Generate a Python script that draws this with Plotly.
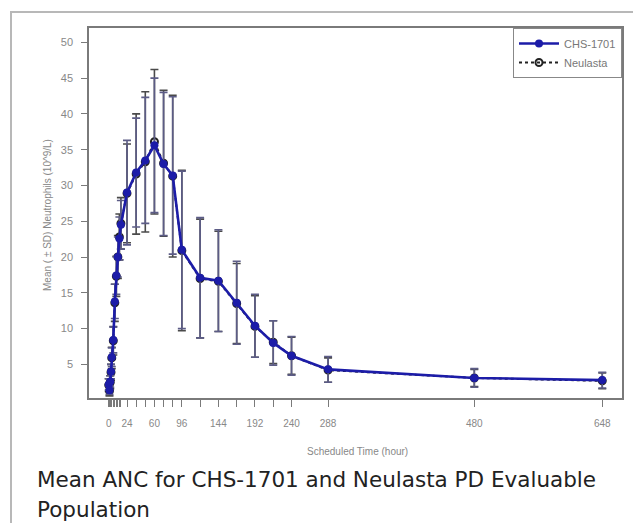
import plotly.graph_objects as go

# ---- data ----
times = [0, 1, 2, 3, 4, 6, 8, 10, 12, 14, 16, 24, 36, 48, 60, 72, 84, 96,
         120, 144, 168, 192, 216, 240, 288, 480, 648]
chs_mean = [2.2, 1.4, 2.6, 4.0, 6.0, 8.4, 13.8, 17.4, 20.0, 22.6, 24.5, 29.0,
            31.8, 33.5, 35.6, 33.0, 31.4, 21.0, 17.1, 16.7, 13.6, 10.4, 8.0,
            6.2, 4.3, 3.1, 2.8]
chs_sd = [0.8, 0.6, 0.8, 1.0, 1.3, 1.8, 2.4, 2.6, 2.8, 3.0, 3.4, 7.3,
          7.6, 8.8, 9.4, 10.0, 11.0, 11.0, 8.4, 7.1, 5.8, 4.4, 3.1,
          2.7, 1.8, 1.3, 1.1]
neu_mean = [2.1, 1.3, 2.5, 3.9, 5.9, 8.3, 13.6, 17.3, 20.0, 22.8, 24.7, 28.9,
            31.6, 33.3, 36.1, 33.1, 31.3, 20.9, 17.0, 16.6, 13.5, 10.3, 8.1,
            6.2, 4.2, 3.1, 2.7]
neu_sd = [0.9, 0.7, 0.9, 1.1, 1.5, 2.0, 2.6, 2.8, 3.0, 3.2, 3.6, 6.9,
          8.4, 9.8, 10.1, 10.2, 11.3, 11.2, 8.3, 7.0, 5.6, 4.3, 3.0,
          2.6, 1.7, 1.2, 1.1]
x_tick_labels = ["0", "24", "60", "96", "144", "192", "240", "288", "480", "648"]
y_ticks = [5, 10, 15, 20, 25, 30, 35, 40, 45, 50]

tick_text = [str(t) if str(t) in x_tick_labels else "" for t in times]

# ---- geometry: page has an 8px body margin, so work in shifted px ----
OFF = 8
W, H = 641 - OFF, 523 - OFF
L, R, T, B = 89 - OFF, 622 - OFF, 28 - OFF, 398 - OFF
pw, ph = R - L, B - T


def px(xp):
    return (xp - OFF - L) / pw


def py(yp):
    return (B - (yp - OFF)) / ph


cap_font = dict(family="DejaVu Sans, Verdana, sans-serif", size=21.5,
                color="#222222")

fig = go.Figure()

fig.add_trace(go.Scatter(
    x=times, y=neu_mean, name="Neulasta", mode="lines+markers",
    line=dict(color="#222222", width=2, dash="dot"),
    marker=dict(symbol="circle-open", size=7, color="#222222",
                line=dict(width=2, color="#222222")),
    error_y=dict(type="data", array=neu_sd, visible=True, color="#4a4a4a",
                 thickness=1.6, width=4),
    legendrank=2,
))
fig.add_trace(go.Scatter(
    x=times, y=chs_mean, name="CHS-1701", mode="lines+markers",
    line=dict(color="#1c1ca8", width=2.6),
    marker=dict(symbol="circle", size=8, color="#1c1ca8"),
    error_y=dict(type="data", array=chs_sd, visible=True, color="#5c5c86",
                 thickness=1.6, width=4),
    legendrank=1,
))

fig.update_layout(
    width=W, height=H,
    margin=dict(l=L, r=W - R, t=T, b=H - B),
    paper_bgcolor="white", plot_bgcolor="white",
    font=dict(family="Liberation Sans, Arial, sans-serif", color="#777777"),
    showlegend=True,
    legend=dict(x=1, y=1, xanchor="right", yanchor="top",
                bgcolor="white", bordercolor="#888888", borderwidth=1,
                font=dict(size=11, color="#777777"),
                tracegroupgap=0, itemwidth=40),
    xaxis=dict(range=[-25.9, 673.9], showgrid=False, zeroline=False,
               showline=True, linecolor="#7a7a7a", linewidth=1.5, mirror=True,
               tickmode="array", tickvals=times, ticktext=tick_text,
               ticks="outside", ticklen=7, tickcolor="#7a7a7a", tickwidth=1,
               tickfont=dict(size=10, color="#888888"),
               ticklabelstandoff=8),
    yaxis=dict(range=[0.3, 52.0], showgrid=False, zeroline=False,
               showline=True, linecolor="#7a7a7a", linewidth=1.5, mirror=True,
               tickmode="array", tickvals=y_ticks,
               ticks="outside", ticklen=6, tickcolor="#7a7a7a", tickwidth=1,
               tickfont=dict(size=11, color="#888888"),
               ticklabelstandoff=6),
    annotations=[
        dict(text="Scheduled Time (hour)", xref="paper", yref="paper",
             x=px(357), y=py(451), showarrow=False, xanchor="center",
             yanchor="middle", font=dict(size=10, color="#888888")),
        dict(text="Mean ( \u00b1 SD) Neutrophils (10^9/L)", xref="paper",
             yref="paper", x=px(48), y=py(215), showarrow=False,
             textangle=-90, xanchor="center", yanchor="middle",
             font=dict(size=10, color="#888888")),
        dict(text="Mean ANC for CHS-1701 and Neulasta PD Evaluable",
             xref="paper", yref="paper", x=px(35), y=py(479),
             showarrow=False, xanchor="left", yanchor="middle",
             font=cap_font),
        dict(text="Population",
             xref="paper", yref="paper", x=px(35), y=py(509),
             showarrow=False, xanchor="left", yanchor="middle",
             font=cap_font),
    ],
    shapes=[
        dict(type="rect", xref="paper", yref="paper",
             x0=px(11), x1=px(637), y0=py(540), y1=py(12),
             line=dict(color="#b8b8b8", width=2), fillcolor="rgba(0,0,0,0)",
             layer="below"),
    ],
)

fig.write_html("out.html")
